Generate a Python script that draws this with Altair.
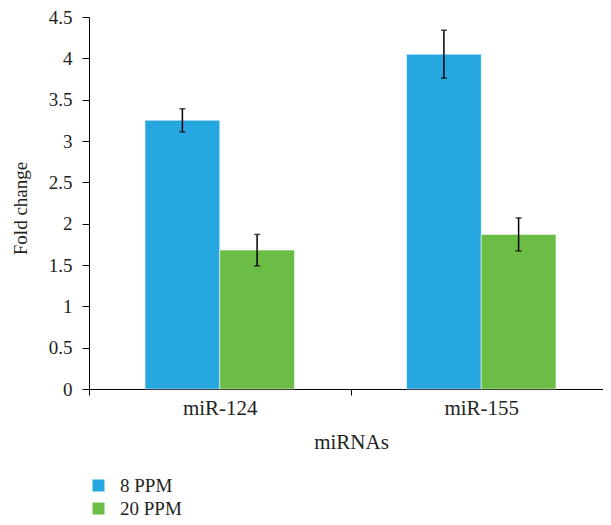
import altair as alt
import pandas as pd

mirnas = ["miR-124", "miR-155"]
doses = ["8 PPM", "20 PPM"]
fold_8ppm = [3.25, 4.05]
fold_20ppm = [1.68, 1.87]
err_8ppm = [0.14, 0.29]
err_20ppm = [0.19, 0.20]
colors = ["#27A7E0", "#6CBD45"]
y_ticks = [0, 0.5, 1, 1.5, 2, 2.5, 3, 3.5, 4, 4.5]

rows = []
for i, m in enumerate(mirnas):
    rows.append(dict(miRNA=m, dose=doses[0], fold=fold_8ppm[i], err=err_8ppm[i]))
    rows.append(dict(miRNA=m, dose=doses[1], fold=fold_20ppm[i], err=err_20ppm[i]))
df = pd.DataFrame(rows)
df["lo"] = df["fold"] - df["err"]
df["hi"] = df["fold"] + df["err"]

FONT = "Liberation Serif"
TXT = "#231f20"

x = alt.X(
    "miRNA:N",
    sort=mirnas,
    scale=alt.Scale(paddingInner=0, paddingOuter=0, range=[0, 523]),
    axis=alt.Axis(
        title="miRNAs", labelAngle=0, tickBand="extent", tickSize=6,
        labelPadding=2, titlePadding=13, labelFontSize=21, titleFontSize=21,
        titleX=262,
    ),
)
xo = alt.XOffset("dose:N", sort=doses, scale=alt.Scale(paddingInner=0, paddingOuter=0.75))

yscale = alt.Scale(domain=[0, 4.5], nice=False)
yaxis = alt.Axis(
    title="Fold change", values=y_ticks, format="~g", grid=False,
    tickSize=7, labelPadding=10, titlePadding=18, titleY=191,
)

base = alt.Chart(df)

bars = base.mark_bar(stroke="#ffffff", strokeOpacity=0.5, strokeWidth=1).encode(
    x=x,
    xOffset=xo,
    y=alt.Y("fold:Q", scale=yscale, axis=yaxis),
    color=alt.Color(
        "dose:N",
        sort=doses,
        scale=alt.Scale(domain=doses, range=colors),
        legend=alt.Legend(
            title=None, orient="none", legendX=0, legendY=459,
            symbolType="square", symbolSize=144, symbolStrokeWidth=0,
            symbolOpacity=1, rowPadding=3, labelOffset=12, padding=0,
        ),
    ),
)

rules = base.mark_rule(color="black", strokeWidth=1.5).encode(
    x=x, xOffset=xo,
    y=alt.Y("lo:Q", scale=yscale, axis=yaxis),
    y2="hi:Q",
)
cap_hi = base.mark_tick(color="black", thickness=1.5, size=6).encode(
    x=x, xOffset=xo, y=alt.Y("hi:Q", scale=yscale, axis=yaxis)
)
cap_lo = base.mark_tick(color="black", thickness=1.5, size=6).encode(
    x=x, xOffset=xo, y=alt.Y("lo:Q", scale=yscale, axis=yaxis)
)

chart = (
    alt.layer(bars, rules, cap_hi, cap_lo)
    .properties(
        width=514,
        height=372,
        autosize=alt.AutoSizeParams(type="none"),
        padding={"left": 81, "top": 9, "right": 0, "bottom": 128},
    )
    .configure_view(stroke=None)
    .configure_axis(
        domainColor="black", domainWidth=1, tickColor="black", tickWidth=1,
        labelFont=FONT, titleFont=FONT, labelFontSize=19, titleFontSize=19,
        titleFontWeight="normal", labelColor=TXT, titleColor=TXT,
    )
    .configure_legend(labelFont=FONT, labelFontSize=19, labelColor=TXT)
)

chart.save("out.html", embed_options={"renderer": "svg", "actions": False})
